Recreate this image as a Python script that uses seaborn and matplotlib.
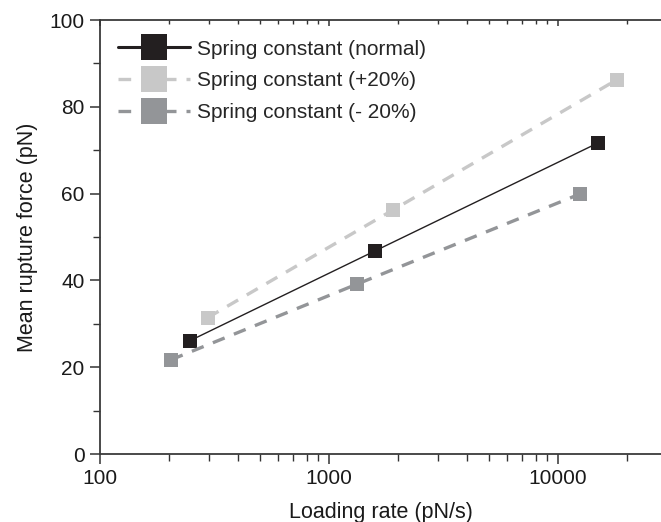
import matplotlib
matplotlib.use("Agg")
import matplotlib.pyplot as plt
import seaborn as sns
import numpy as np
from matplotlib.ticker import LogLocator, NullFormatter, FixedLocator, FixedFormatter, MultipleLocator

sns.set_theme(style="white")
plt.rcParams['font.family'] = ['Liberation Sans', 'DejaVu Sans']

# Data
labels = ["Spring constant (normal)", "Spring constant (+20%)", "Spring constant (- 20%)"]
rate_normal = [247, 1590, 15000]
force_normal = [26.1, 46.8, 71.7]
rate_plus = [295, 1900, 18050]
force_plus = [31.4, 56.2, 86.2]
rate_minus = [204, 1320, 12470]
force_minus = [21.7, 39.1, 59.9]
x_ticks = [100, 1000, 10000]
x_tick_labels = ["100", "1000", "10000"]

colors = ["#231f20", "#c8c8c8", "#939598"]

fig = plt.figure(figsize=(6.61, 5.22), dpi=100)
ax = fig.add_axes([100/661, 68/522, 1 - 100/661, 434/522])

series = [(rate_normal, force_normal), (rate_plus, force_plus), (rate_minus, force_minus)]
styles = [dict(linestyle='-', linewidth=1.0),
          dict(linestyle=(0, (3.8, 3.0)), linewidth=2.4),
          dict(linestyle=(0, (3.8, 3.0)), linewidth=2.4)]
for (xs, ys), lab, c, st in zip(series, labels, colors, styles):
    sns.lineplot(x=xs, y=ys, ax=ax, color=c, marker='s', markersize=9.5,
                 markeredgewidth=0, label=lab, sort=False, **st)

ax.set_xscale('log')
ax.set_xlim(100, 28200)
ax.set_ylim(0, 100)

ax.xaxis.set_major_locator(FixedLocator(x_ticks))
ax.xaxis.set_major_formatter(FixedFormatter(x_tick_labels))
ax.xaxis.set_minor_locator(LogLocator(base=10, subs=np.arange(2, 10)))
ax.xaxis.set_minor_formatter(NullFormatter())
ax.yaxis.set_major_locator(MultipleLocator(20))
ax.yaxis.set_minor_locator(MultipleLocator(10))

ax.tick_params(axis='both', which='major', direction='out', length=7, width=1.1,
               color='#333333', labelsize=15, labelcolor='#1a1a1a', pad=4,
               bottom=True, left=True)
ax.tick_params(axis='both', which='minor', direction='out', length=5, width=1.0,
               color='#333333', bottom=True, left=True)

for side in ['left', 'bottom', 'top']:
    ax.spines[side].set_visible(True)
    ax.spines[side].set_color('#3a3a3a')
    ax.spines[side].set_linewidth(1.3)
ax.spines['right'].set_visible(False)

# top ticks pointing inward
axt = ax.twiny()
axt.set_xscale('log')
axt.set_xlim(ax.get_xlim())
axt.xaxis.set_major_locator(FixedLocator(x_ticks))
axt.xaxis.set_minor_locator(LogLocator(base=10, subs=np.arange(2, 10)))
axt.xaxis.set_major_formatter(NullFormatter())
axt.xaxis.set_minor_formatter(NullFormatter())
axt.tick_params(axis='x', which='major', direction='in', length=4, width=1.1, color='#333333', top=True)
axt.tick_params(axis='x', which='minor', direction='in', length=3, width=1.0, color='#333333', top=True)
axt.tick_params(axis='y', left=False, right=False, labelleft=False, labelright=False)
for s in axt.spines.values():
    s.set_visible(False)

ax.set_xlabel("Loading rate (pN/s)", fontsize=15.5, color='#1a1a1a', labelpad=10)
ax.set_ylabel("Mean rupture force (pN)", fontsize=15.5, color='#1a1a1a', labelpad=8)

leg = ax.legend(loc='upper left', bbox_to_anchor=(18/561, 0.955), frameon=False,
                fontsize=15, markerscale=1.9, handlelength=3.45, handletextpad=0.35,
                labelspacing=0.62, borderaxespad=0, borderpad=0)
leg.legend_handles[0].set_linewidth(2.2)

fig.savefig("out.png", dpi=100)
